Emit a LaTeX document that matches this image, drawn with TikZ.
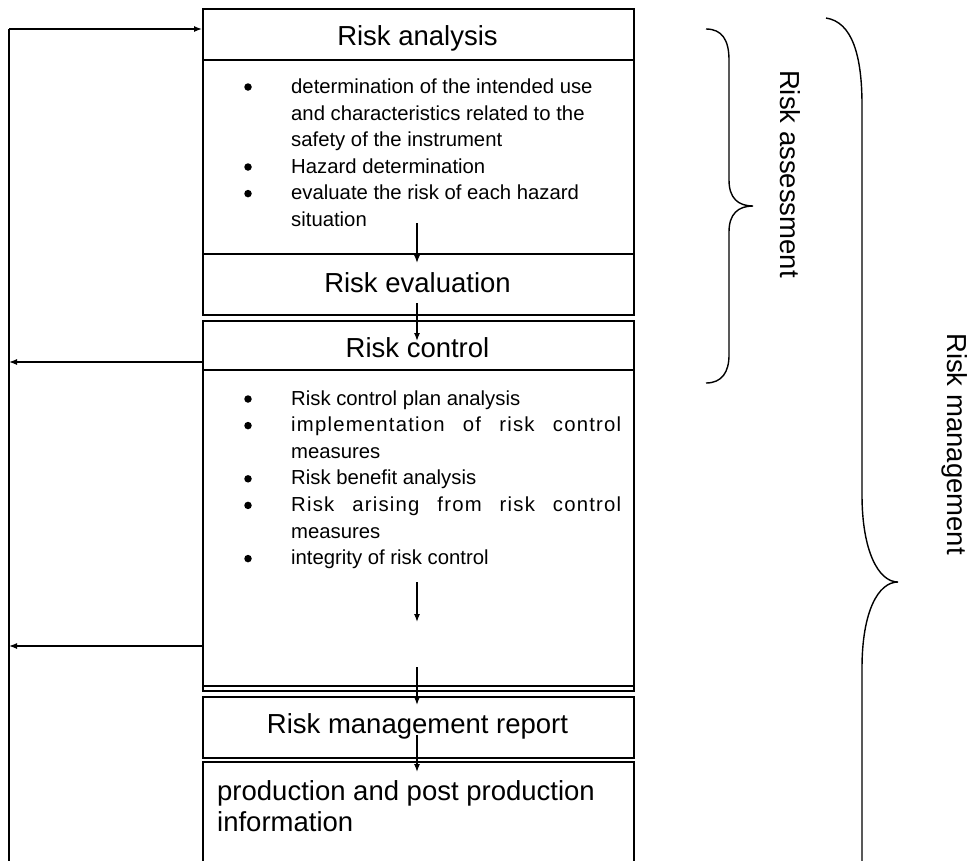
\documentclass[tikz,border=0pt]{standalone}
\usepackage{fontspec}
\setmainfont{Liberation Sans}
\newfontfamily\spacedfont[LetterSpace=6]{Liberation Sans}
\usetikzlibrary{arrows.meta}
\begin{document}
\begin{tikzpicture}[x=1pt,y=-1pt,
  box/.style={draw, line width=1.6pt, anchor=north west, minimum width=431pt, inner sep=0pt},
  head/.style={anchor=base, inner sep=0pt, font=\fontsize{27.5}{30}\selectfont},
  btxt/.style={anchor=base west, inner sep=0pt, font=\fontsize{20.3}{26}\selectfont},
  bul/.style={circle, fill=black, inner sep=0pt, minimum size=7.5pt},
  big/.style={anchor=base west, inner sep=0pt, font=\fontsize{27.5}{30}\selectfont},
  side/.style={rotate=-90, inner sep=0pt, font=\fontsize{27.5}{30}\selectfont},
  arr/.style={line width=1.3pt, -{Latex[length=8pt,width=6pt]}},
  fline/.style={line width=1.5pt},
  brace/.style={line width=1.4pt}]
\useasboundingbox (0,0) rectangle (974,860);
\clip (0,0) rectangle (974,860);

% boxes
\node[box, minimum height=51pt]  (ra)  at (202,8)   {};
\node[box, minimum height=194pt] (rab) at (202,59)  {};
\node[box, minimum height=61pt]  (re)  at (202,253) {};
\node[box, minimum height=49pt]  (rc)  at (202,320) {};
\node[box, minimum height=316pt] (rcb) at (202,369) {};
\node[box, minimum height=5pt]   (rcx) at (202,685) {};
\node[box, minimum height=61pt]  (rmr) at (202,696) {};
\node[box, minimum height=140pt] (pr)  at (202,761) {};

% box titles
\node[head] (ratxt)  at (417.5,45)  {Risk analysis};
\node[head] (retxt)  at (417.5,292) {Risk evaluation};
\node[head] (rctxt)  at (417.5,357) {Risk control};
\node[head] (rmrtxt) at (417.5,733) {Risk management report};

% bullets of risk analysis
\node[bul]  (b1) at (248,87)  {};
\node[btxt] (t1) at (291,93.3)  {determination of the intended use};
\node[btxt] (t2) at (291,120)   {and characteristics related to the};
\node[btxt] (t3) at (291,146.6) {safety of the instrument};
\node[bul]  (b2) at (248,167) {};
\node[btxt] (t4) at (291,173.2) {Hazard determination};
\node[bul]  (b3) at (248,193.6) {};
\node[btxt] (t5) at (291,199.8) {evaluate the risk of each hazard};
\node[btxt] (t6) at (291,226.4) {situation};

% bullets of risk control
\node[bul]  (c1) at (248,399)   {};
\node[btxt] (u1) at (291,405)   {Risk control plan analysis};
\node[bul]  (c2) at (248,425.6) {};
\node[btxt] (u2) at (291,431.6) {\makebox[330pt][s]{\spacedfont implementation of risk control}};
\node[btxt] (u3) at (291,458.2) {measures};
\node[bul]  (c3) at (248,478.8) {};
\node[btxt] (u4) at (291,484.8) {Risk benefit analysis};
\node[bul]  (c4) at (248,505.4) {};
\node[btxt] (u5) at (291,511.4) {\makebox[330pt][s]{\spacedfont Risk arising from risk control}};
\node[btxt] (u6) at (291,538)   {measures};
\node[bul]  (c5) at (248,558.6) {};
\node[btxt] (u7) at (291,564.6) {integrity of risk control};

% production text
\node[big] (p1) at (217,800)   {production and post production};
\node[big] (p2) at (217,831.5) {information};

% down arrows
\coordinate (a1s) at (417,223); \coordinate (a1e) at (417,263);
\coordinate (a2s) at (417,303); \coordinate (a2e) at (417,341);
\coordinate (a3s) at (417,582); \coordinate (a3e) at (417,622);
\coordinate (a4s) at (417,667); \coordinate (a4e) at (417,705);
\coordinate (a5s) at (417,735); \coordinate (a5e) at (417,772);
\foreach \i in {1,...,5} \draw[arr] (a\i s) -- (a\i e);

% feedback line
\coordinate (lt) at (9,29);
\coordinate (lb) at (9,880);
\coordinate (fb1) at (9,362);
\coordinate (fb2) at (9,646);
\draw[fline] (lb) -- (lt);
\draw[arr] (lt) -- (lt -| ra.west);
\draw[arr] (rc.west |- fb1) -- (fb1);
\draw[arr] (rcb.west |- fb2) -- (fb2);

% small brace
\draw[brace] (706,29) .. controls (722,29) and (729,40) .. (729,60)
  -- (729,180) .. controls (729,198) and (738,206) .. (753,206)
  .. controls (738,206) and (729,214) .. (729,232)
  -- (729,355) .. controls (729,372) and (722,383) .. (706,383);
\node[side] (lassess) at (790,174) {Risk assessment};

% big brace
\draw[brace] (826,18) .. controls (852,22) and (862,55) .. (862,105)
  -- (862,495) .. controls (862,550) and (878,582) .. (898,582)
  .. controls (878,582) and (862,612) .. (862,668)
  -- (862,900);
\node[side] (lmgmt) at (955,444) {Risk management};
\end{tikzpicture}
\end{document}
